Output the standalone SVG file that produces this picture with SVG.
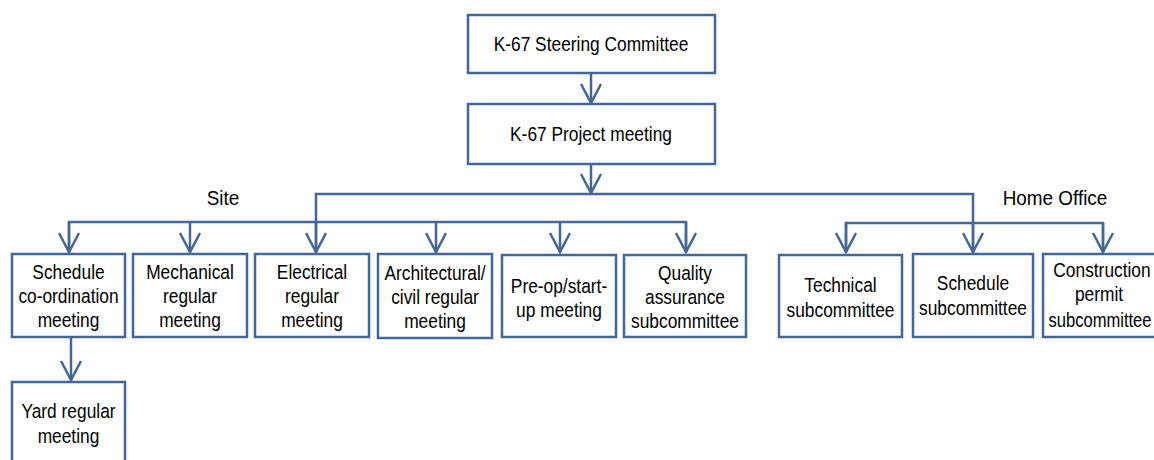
<svg xmlns="http://www.w3.org/2000/svg" width="1154" height="460" viewBox="0 0 1154 460">
<style>
.box{fill:#fff;stroke:#41679B;stroke-width:2.5}
.ln{fill:none;stroke:#41679B;stroke-width:2.5}
text{font-family:"Liberation Sans",Arial,sans-serif;font-size:19.5px;fill:#000;text-anchor:middle;transform-box:fill-box;transform-origin:center;transform:scaleX(0.89)}
text.nar{transform:scaleX(0.85)}
text.lbl{font-size:19.5px;transform:scaleX(0.97)}
</style>
<defs>
<marker id="ah" markerUnits="userSpaceOnUse" markerWidth="30" markerHeight="30" refX="20" refY="11" orient="auto" overflow="visible">
<path d="M1,1 L20,11 L1,21" fill="none" stroke="#41679B" stroke-width="2.5"/>
</marker>
</defs>
<rect width="1154" height="460" fill="#fff"/>
<g id="connectors">
<path class="ln" d="M591,73 V103" marker-end="url(#ah)"/>
<path class="ln" d="M591,164 V193"  marker-end="url(#ah)"/>
<path class="ln" d="M316,252 V194 H973 V252"/>
<path class="ln" d="M316,222 V252" marker-end="url(#ah)"/>
<path class="ln" d="M973,223 V252" marker-end="url(#ah)"/>
<path class="ln" d="M69,252 V222 H686 V252"/>
<path class="ln" d="M69,222 V252" marker-end="url(#ah)"/>
<path class="ln" d="M190,222 V252" marker-end="url(#ah)"/>
<path class="ln" d="M436,222 V252" marker-end="url(#ah)"/>
<path class="ln" d="M560,222 V252" marker-end="url(#ah)"/>
<path class="ln" d="M686,222 V252" marker-end="url(#ah)"/>
<path class="ln" d="M846,252 V223 H1103 V252"/>
<path class="ln" d="M846,223 V252" marker-end="url(#ah)"/>
<path class="ln" d="M1103,223 V252" marker-end="url(#ah)"/>
<path class="ln" d="M71,337 V380" marker-end="url(#ah)"/>
</g>
<g id="labels">
<text class="lbl" x="223" y="205">Site</text>
<text class="lbl" x="1055" y="205">Home Office</text>
</g>
<g id="steering"><rect class="box" x="468" y="15" width="247" height="58"/><text x="591" y="51">K-67 Steering Committee</text></g>
<g id="project"><rect class="box" x="468" y="104" width="247" height="60"/><text x="591" y="141">K-67 Project meeting</text></g>
<g id="schedule-coord"><rect class="box" x="12" y="254" width="113" height="83"/><text x="68.5" y="279">Schedule</text><text x="68.5" y="303">co-ordination</text><text x="68.5" y="327">meeting</text></g>
<g id="mechanical"><rect class="box" x="133" y="254" width="114" height="83"/><text x="190" y="279">Mechanical</text><text x="190" y="303">regular</text><text x="190" y="327">meeting</text></g>
<g id="electrical"><rect class="box" x="255" y="254" width="114" height="83"/><text x="312" y="279">Electrical</text><text x="312" y="303">regular</text><text x="312" y="327">meeting</text></g>
<g id="architectural"><rect class="box" x="378" y="254" width="114" height="84"/><text x="435" y="280">Architectural/</text><text x="435" y="304">civil regular</text><text x="435" y="328">meeting</text></g>
<g id="preop"><rect class="box" x="502" y="255" width="114" height="82"/><text x="559" y="293">Pre-op/start-</text><text x="559" y="317">up meeting</text></g>
<g id="quality"><rect class="box" x="624" y="255" width="122" height="82"/><text x="685" y="280">Quality</text><text x="685" y="304">assurance</text><text x="685" y="328">subcommittee</text></g>
<g id="technical"><rect class="box" x="779" y="255" width="123" height="82"/><text x="840.5" y="292">Technical</text><text x="840.5" y="317">subcommittee</text></g>
<g id="schedule-sub"><rect class="box" x="913" y="254" width="120" height="83"/><text x="973" y="290">Schedule</text><text x="973" y="315">subcommittee</text></g>
<g id="construction"><rect class="box" x="1043" y="254" width="120" height="83"/><text x="1102" y="277">Construction</text><text x="1099" y="301">permit</text><text class="nar" x="1100" y="327">subcommittee</text></g>
<g id="yard"><rect class="box" x="12" y="382" width="113" height="90"/><text x="68.5" y="418">Yard regular</text><text x="68.5" y="443">meeting</text></g>
</svg>
